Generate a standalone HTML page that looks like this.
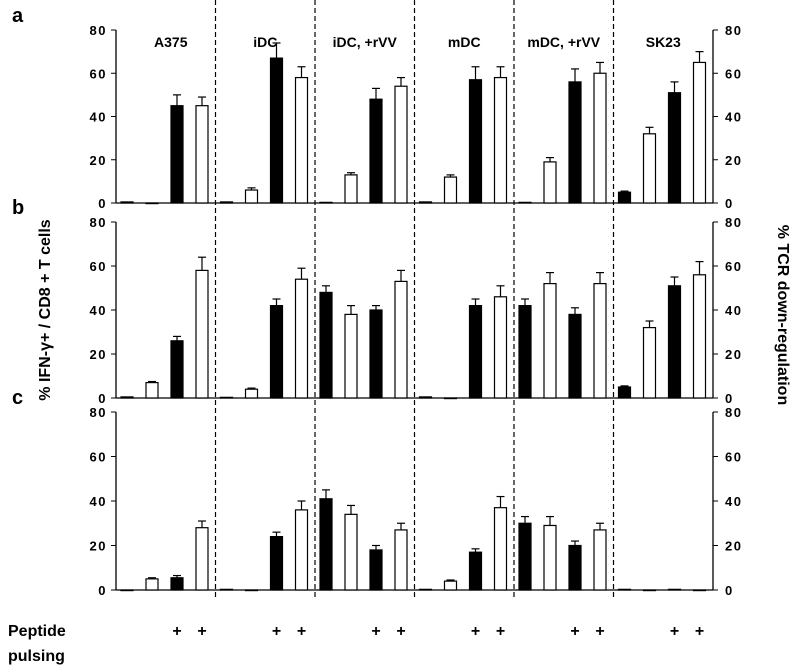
<!DOCTYPE html>
<html><head><meta charset="utf-8"><style>
body{margin:0;background:#fff;}
svg text{font-family:"Liberation Sans",sans-serif;font-weight:bold;fill:#000;}
</style></head><body>
<svg id="chart" width="800" height="667" xmlns="http://www.w3.org/2000/svg"></svg>
<script>
const groups=["A375","iDC","iDC, +rVV","mDC","mDC, +rVV","SK23"];
const panelLabels=["a","b","c"];
const valuesA=[[0.5,0,45,45],[0.5,6,67,58],[0.3,13,48,54],[0.5,12,57,58],[0.3,19,56,60],[5,32,51,65]];
const errorsA=[[0,0,5,4],[0,1,7,5],[0,1,5,4],[0,1,6,5],[0,2,6,5],[0.5,3,5,5]];
const valuesB=[[0.5,7,26,58],[0.3,4,42,54],[48,38,40,53],[0.5,0,42,46],[42,52,38,52],[5,32,51,56]];
const errorsB=[[0,0.5,2,6],[0,0.5,3,5],[3,4,2,5],[0,0,3,5],[3,5,3,5],[0.5,3,4,6]];
const valuesC=[[0,5,5.5,28],[0.3,0,24,36],[41,34,18,27],[0.3,4,17,37],[30,29,20,27],[0.3,0,0.3,0]];
const errorsC=[[0,0.5,1,3],[0,0,2,4],[4,4,2,3],[0,0.5,1.5,5],[3,4,2,3],[0,0,0,0]];
const ticks=[0,20,40,60,80];
const NS="http://www.w3.org/2000/svg";
const svg=document.getElementById("chart");
function mk(t,a,p){const e=document.createElementNS(NS,t);for(const k in a)e.setAttribute(k,a[k]);(p||svg).appendChild(e);return e;}
const x0=116,x1=713,gw=(x1-x0)/6;
const panels=[{v:valuesA,e:errorsA,top:30,bot:203},{v:valuesB,e:errorsB,top:222,bot:398},{v:valuesC,e:errorsC,top:412,bot:590}];
const offs=[11,36,61,86];
function xs(g,i){return x0+g*gw+offs[i];}
panels.forEach((p,pi)=>{
  const y=v=>p.bot-(v/80)*(p.bot-p.top);
  const g=mk("g",{});
  
  
  const lbl=mk("text",{x:12,y:[22,214,404][pi],"font-size":20},g);lbl.textContent=panelLabels[pi];
  
  
  mk("line",{x1:x0,y1:p.top,x2:x0,y2:p.bot,stroke:"#000","stroke-width":1.3},g);
  mk("line",{x1:x1,y1:p.top,x2:x1,y2:p.bot,stroke:"#000","stroke-width":1.3},g);
  mk("line",{x1:x0,y1:p.bot,x2:x1,y2:p.bot,stroke:"#000","stroke-width":1.3},g);
  ticks.forEach(t=>{
    mk("line",{x1:x0-5,y1:y(t),x2:x0,y2:y(t),stroke:"#000"},g);
    mk("line",{x1:x1,y1:y(t),x2:x1+5,y2:y(t),stroke:"#000"},g);
    const tl=mk("text",{x:x0-9,y:y(t)+5,"font-size":13,"text-anchor":"end","letter-spacing":"1.5"},g);tl.textContent=t;
    
    
    const tr=mk("text",{x:x1+12,y:y(t)+5,"font-size":13,"letter-spacing":"1.5"},g);tr.textContent=t;
    
    
  });
  p.v.forEach((vals,gi)=>vals.forEach((v,i)=>{
    const cx=xs(gi,i),w=12,black=(i%2===0);
    const r=mk("rect",{x:cx-w/2,y:y(v),width:w,height:Math.max(0.6,p.bot-y(v)),fill:black?"#000":"#fff",stroke:"#000","stroke-width":1.2},g);
    
    
    const e=p.e[gi][i];
    if(e>0){mk("line",{x1:cx,y1:y(v),x2:cx,y2:y(v+e),stroke:"#000","stroke-width":1.2},g);
      mk("line",{x1:cx-4,y1:y(v+e),x2:cx+4,y2:y(v+e),stroke:"#000","stroke-width":1.2},g);}
  }));
});
for(let k=1;k<6;k++){const d=mk("line",{x1:x0+k*gw,y1:0,x2:x0+k*gw,y2:598,stroke:"#000","stroke-dasharray":"5,3","stroke-width":1.2});
  
  }
groups.forEach((n,gi)=>{const t=mk("text",{x:x0+gi*gw+gw/2+(gi===0?5:0),y:47,"font-size":14,"text-anchor":"middle"});t.textContent=n;
  
  
  [2,3].forEach(i=>{const pl=mk("text",{x:xs(gi,i),y:636,"font-size":16,"text-anchor":"middle"});pl.textContent="+";
    
    });
});
const yl=mk("text",{x:0,y:0,"font-size":16,"text-anchor":"middle",transform:"translate(50,310) rotate(-90)"});yl.textContent="% IFN-γ+ / CD8 + T cells";


const yr=mk("text",{x:0,y:0,"font-size":16,"text-anchor":"middle",transform:"translate(778,315) rotate(90)"});yr.textContent="% TCR down-regulation";


const p1=mk("text",{x:8,y:636,"font-size":16});p1.textContent="Peptide";


const p2=mk("text",{x:8,y:661,"font-size":16});p2.textContent="pulsing";


</script>
</body></html>
